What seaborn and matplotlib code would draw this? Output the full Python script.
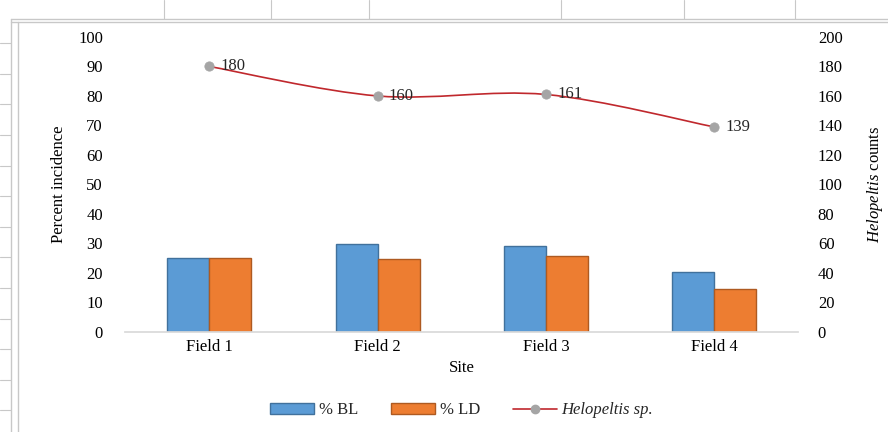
import numpy as np
import pandas as pd
import matplotlib
matplotlib.use("Agg")
import matplotlib.pyplot as plt
import seaborn as sns
from matplotlib.path import Path
from matplotlib.patches import PathPatch
from matplotlib.lines import Line2D

sites = ["Field 1", "Field 2", "Field 3", "Field 4"]
pct_bl = [25.2, 29.7, 29.3, 20.3]
pct_ld = [25.2, 24.8, 25.6, 14.6]
helopeltis = [180, 160, 161, 139]

sns.set_theme(style="white")
plt.rcParams["font.family"] = ["Liberation Serif", "DejaVu Serif"]
plt.rcParams["mathtext.fontset"] = "custom"
plt.rcParams["mathtext.it"] = "Liberation Serif:italic"
plt.rcParams["mathtext.rm"] = "Liberation Serif"

df = pd.DataFrame({
    "Site": sites * 2,
    "value": pct_bl + pct_ld,
    "series": ["% BL"] * 4 + ["% LD"] * 4,
})

fig = plt.figure(figsize=(8.88, 4.32), dpi=100)
ax = fig.add_axes([0.141, 0.2315, 0.758, 0.683])

sns.barplot(data=df, x="Site", y="value", hue="series", ax=ax,
            palette=["#5B9BD5", "#ED7D31"], saturation=1, width=0.5, gap=0,
            edgecolor="#41719C", linewidth=1.0, legend=False)
for p in ax.patches[4:]:
    p.set_edgecolor("#AE5A21")

ax.set_ylim(0, 100)
ax.set_yticks(range(0, 101, 10))
ax.set_xlim(-0.5, 3.5)
ax.set_ylabel("Percent incidence", fontsize=12, color="black", labelpad=8)
ax.set_xlabel("Site", fontsize=12, color="black", labelpad=4)
ax.tick_params(axis="y", labelsize=12, length=0, colors="black", pad=16)
ax.tick_params(axis="x", labelsize=12, length=0, colors="black", pad=5)
for s in ["top", "left", "right"]:
    ax.spines[s].set_visible(False)
ax.spines["bottom"].set_color("#D9D9D9")

ax2 = ax.twinx()
ax2.set_ylim(0, 200)
ax2.set_yticks(range(0, 201, 20))
ax2.tick_params(axis="y", labelsize=12, length=0, colors="black", pad=14)
for s in ax2.spines.values():
    s.set_visible(False)
ax2.set_ylabel(r"$\it{Helopeltis}$ counts", fontsize=12, color="black", labelpad=16)

# smooth line (Catmull-Rom as cubic bezier, like Excel's smoothed line)
x = np.arange(len(helopeltis), dtype=float)
y = np.array(helopeltis, dtype=float)
verts = [(x[0], y[0])]
codes = [Path.MOVETO]
for i in range(len(x) - 1):
    p0 = (x[i - 1], y[i - 1]) if i > 0 else (x[i], y[i])
    p3 = (x[i + 2], y[i + 2]) if i + 2 < len(x) else (x[i + 1], y[i + 1])
    c1 = (x[i] + (x[i + 1] - p0[0]) / 6, y[i] + (y[i + 1] - p0[1]) / 6)
    c2 = (x[i + 1] - (p3[0] - x[i]) / 6, y[i + 1] - (p3[1] - y[i]) / 6)
    verts += [c1, c2, (x[i + 1], y[i + 1])]
    codes += [Path.CURVE4] * 3
ax2.add_patch(PathPatch(Path(verts, codes), fill=False, edgecolor="#C0282D", lw=1.2))
sns.scatterplot(x=x, y=y, ax=ax2, color="#A5A5A5", s=45, edgecolor="#A5A5A5", zorder=3)
for xi, yi in zip(x, helopeltis):
    ax2.annotate(str(yi), (xi, yi), xytext=(8, 0), textcoords="offset points",
                 va="center", ha="left", fontsize=12)
ax2.set_xlim(-0.5, 3.5)

handles = [
    plt.Rectangle((0, 0), 1, 1, fc="#5B9BD5", ec="#41719C"),
    plt.Rectangle((0, 0), 1, 1, fc="#ED7D31", ec="#AE5A21"),
    Line2D([], [], color="#C0282D", lw=1.2, marker="o", markersize=6,
           markerfacecolor="#A5A5A5", markeredgecolor="#A5A5A5"),
]
leg = fig.legend(handles, ["% BL", "% LD", "Helopeltis sp."], loc="center",
                 bbox_to_anchor=(0.52, 0.05), ncol=3, frameon=False,
                 fontsize=12, handlelength=2.6, handleheight=0.7, columnspacing=2.0,
                 handletextpad=0.3)
leg.get_texts()[2].set_style("italic")

# window ruler decoration from the screenshot
gray = "#C8C8C8"
fig.add_artist(Line2D([0.012, 1.0], [0.957, 0.957], color=gray, lw=1))
fig.add_artist(Line2D([0.012, 1.0], [0.950, 0.950], color=gray, lw=1))
fig.add_artist(Line2D([0.012, 0.012], [0.0, 0.957], color=gray, lw=1))
fig.add_artist(Line2D([0.020, 0.020], [0.0, 0.950], color=gray, lw=1))
for xx in [0.185, 0.305, 0.415, 0.632, 0.77, 0.895]:
    fig.add_artist(Line2D([xx, xx], [0.957, 1.0], color=gray, lw=0.8))
for yy in np.linspace(0.05, 0.9, 13):
    fig.add_artist(Line2D([0.0, 0.012], [yy, yy], color=gray, lw=0.8))

fig.savefig("out.png", dpi=100)
